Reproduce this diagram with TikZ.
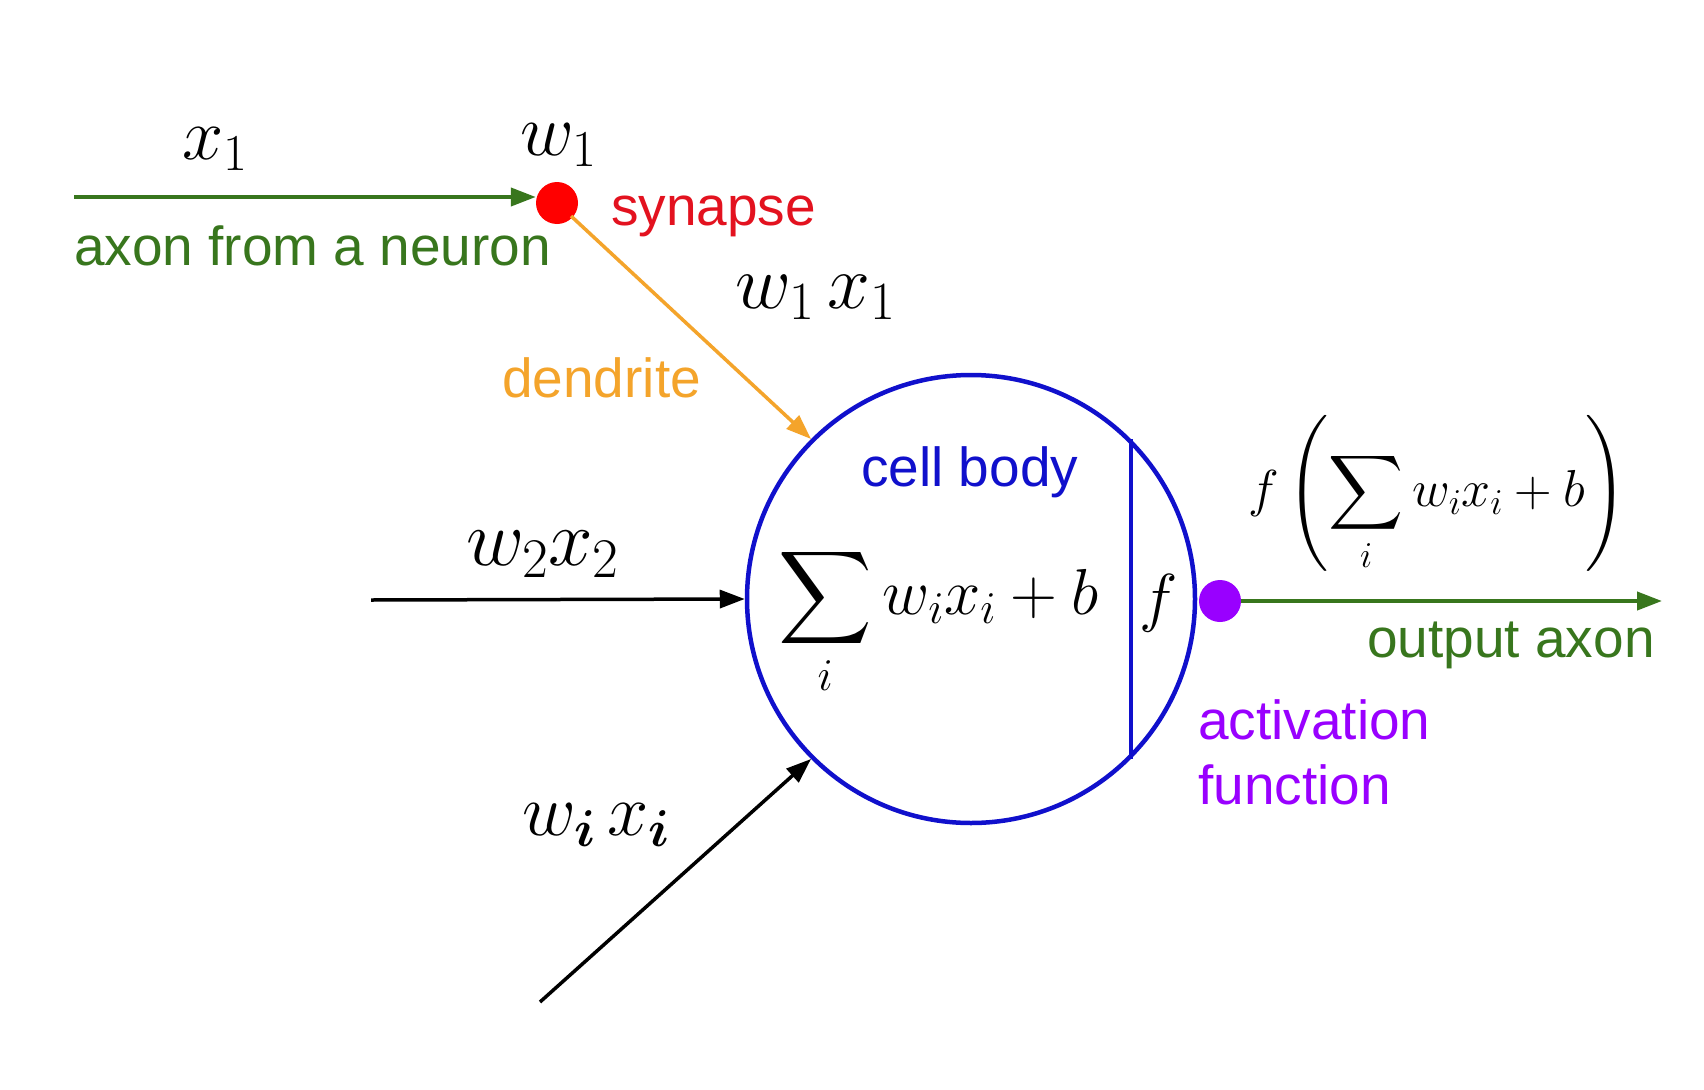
\documentclass[tikz,border=0pt]{standalone}
\usepackage{fix-cm}
\usepackage{amsmath}
\DeclareFontFamily{OMX}{cmex}{}
\DeclareFontShape{OMX}{cmex}{m}{n}{<->cmex10}{}
\usepackage[no-math]{fontspec}
\newfontfamily\arialf{Liberation Sans}
\usetikzlibrary{arrows.meta}
\definecolor{axgreen}{HTML}{38761D}
\definecolor{synred}{HTML}{FF0000}
\definecolor{syntext}{HTML}{E3121F}
\definecolor{dendor}{HTML}{F4A42B}
\definecolor{cellblue}{HTML}{1010CC}
\definecolor{actpurple}{HTML}{9900FF}
\tikzset{
  mathlab/.style={inner sep=0pt, anchor=base west, font=\fontsize{74}{80}\selectfont},
  txt/.style={inner sep=0pt, anchor=base west, font=\arialf\fontsize{55}{65}\selectfont},
  tipA/.style={-{Triangle[length=25pt,width=18pt]}},
  dot/.style={circle, inner sep=0pt, minimum size=42pt},
}
\begin{document}
\begin{tikzpicture}[x=1pt,y=-1pt]
\useasboundingbox[fill=white] (0,0) rectangle (1704,1089);

% main nodes
\node[dot, fill=synred] (syn) at (557,203) {};
\node[circle, draw=cellblue, line width=4.5pt, minimum size=448pt, inner sep=0pt] (cell) at (971,599) {};
\node[dot, fill=actpurple] (act) at (1220,601) {};

% free ends
\coordinate (axin) at (74,197);
\coordinate (in2) at (371,600);
\coordinate (ini) at (540,1002);
\coordinate (outend) at (1662,601);

% connectors
\draw[axgreen, line width=4pt, tipA] (axin) -- (axin -| syn.west);
\draw[dendor, line width=3.5pt, tipA, shorten <=-2pt] (syn) -- (cell.135);
\draw[black, line width=3.5pt, tipA] (in2) -- (cell.west);
\draw[black, line width=3.5pt, tipA] (ini) -- (cell.225);
\draw[axgreen, line width=4pt, tipA] (act.east) -- (outend);
\draw[cellblue, line width=4pt] (cell.45) -- (cell.-45);

% math labels
\node[mathlab] (lx1) at (182,159) {$x_1$};
\node[mathlab] (lw1) at (520,155) {$w_1$};
\node[mathlab, font=\fontsize{77}{84}\selectfont] (lw1x1) at (735,308) {$w_1\,x_1$};
\node[mathlab, font=\fontsize{80}{86}\selectfont] (lw2x2) at (466,565) {$w_2x_2$};
\node[mathlab] (lwixi) at (522,835) {$w_{\boldsymbol{i}}\,x_{\boldsymbol{i}}$};
\node[inner sep=0pt, anchor=base west, font=\fontsize{65}{70}\selectfont] (sumf) at (778,614) {$\displaystyle\sum_i w_ix_i+b$};
\node[inner sep=0pt, anchor=base west, font=\fontsize{65}{70}\selectfont] (finside) at (1139,619) {$f$};
\node[inner sep=0pt, anchor=west, font=\fontsize{52}{60}\selectfont] (fout) at (1248,494) {$\displaystyle f\left(\sum_i w_ix_i+b\right)$};

% text labels
\node[txt, text=axgreen] (taxon) at (74,265) {axon from a neuron};
\node[txt, text=syntext] (tsyn) at (611,225) {synapse};
\node[txt, text=dendor] (tdend) at (502,397) {dendrite};
\node[txt, text=cellblue] (tcell) at (861,486) {cell body};
\node[txt, text=axgreen] (tout) at (1367,657) {output axon};
\node[txt, text=actpurple, anchor=north west, align=left] (tact) at (1198,699) {activation\\function};
\end{tikzpicture}
\end{document}
